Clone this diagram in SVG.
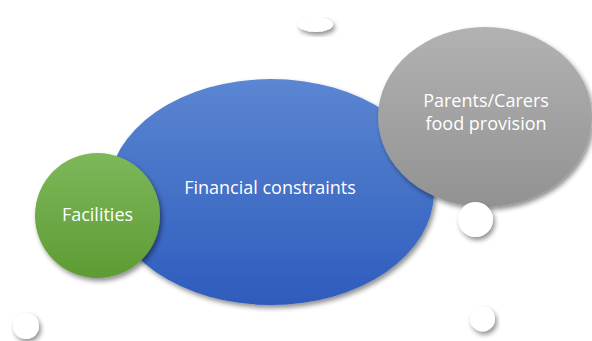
<svg xmlns="http://www.w3.org/2000/svg" width="592" height="341" viewBox="0 0 592 341">
  <defs>
    <linearGradient id="gBlue" x1="0" y1="0" x2="0" y2="1">
      <stop offset="0" stop-color="#5b86d2"/>
      <stop offset="1" stop-color="#2e5cbd"/>
    </linearGradient>
    <linearGradient id="gGreen" x1="0" y1="0" x2="0" y2="1">
      <stop offset="0" stop-color="#7db85a"/>
      <stop offset="1" stop-color="#5e9b33"/>
    </linearGradient>
    <linearGradient id="gGray" x1="0" y1="0" x2="0" y2="1">
      <stop offset="0" stop-color="#b2b2b2"/>
      <stop offset="1" stop-color="#929292"/>
    </linearGradient>
    <filter id="shadow" x="-20%" y="-20%" width="140%" height="150%">
      <feGaussianBlur in="SourceAlpha" stdDeviation="2.5"/>
      <feOffset dx="1.5" dy="3" result="b"/>
      <feComponentTransfer><feFuncA type="linear" slope="0.45"/></feComponentTransfer>
      <feMerge><feMergeNode/><feMergeNode in="SourceGraphic"/></feMerge>
    </filter>
  </defs>
  <style>
    .lbl { font-family: "Open Sans", "Noto Sans", "Liberation Sans", sans-serif; font-size: 18px; fill: #ffffff; text-anchor: middle; }
    .dot { fill: #ffffff; filter: url(#shadow); }
  </style>
  <rect width="592" height="341" fill="#ffffff"/>

  <g id="connectors"></g>

  <g id="financial">
    <ellipse cx="271" cy="192" rx="163" ry="113" fill="url(#gBlue)" filter="url(#shadow)"/>
    <text class="lbl" x="270" y="194">Financial constraints</text>
  </g>

  <g id="facilities">
    <circle cx="97.5" cy="215.5" r="62.5" fill="url(#gGreen)" filter="url(#shadow)"/>
    <text class="lbl" x="97.5" y="221">Facilities</text>
  </g>

  <g id="parents">
    <ellipse cx="485" cy="117" rx="107" ry="90" fill="url(#gGray)" filter="url(#shadow)"/>
    <text class="lbl" x="486" y="107">Parents/Carers</text>
    <text class="lbl" x="486" y="130">food provision</text>
  </g>

  <g id="dot-top"><ellipse class="dot" cx="315.5" cy="24.5" rx="17.5" ry="7.5"/></g>
  <g id="dot-mid"><circle class="dot" cx="475.5" cy="219.5" r="17.5"/></g>
  <g id="dot-bl"><circle class="dot" cx="26" cy="326" r="13"/></g>
  <g id="dot-br"><circle class="dot" cx="482.5" cy="319" r="12.5"/></g>
</svg>
